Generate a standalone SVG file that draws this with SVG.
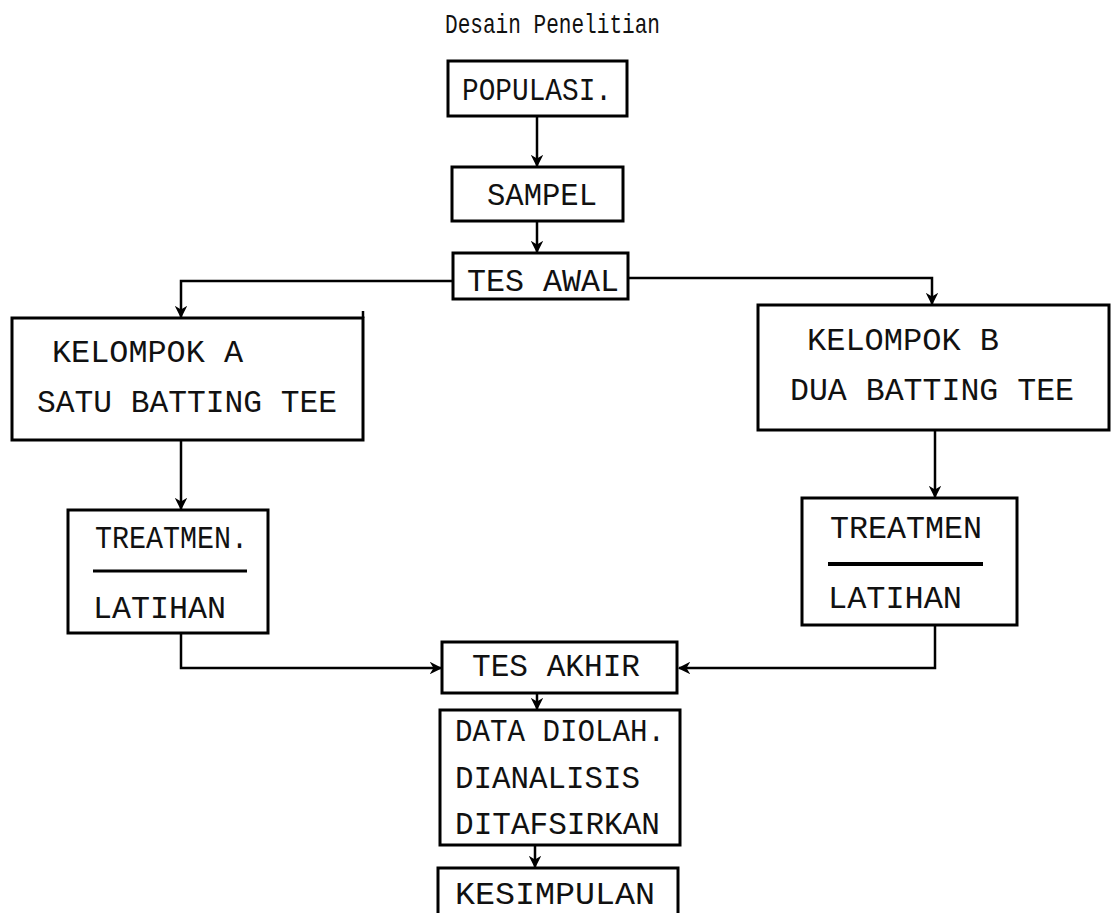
<svg xmlns="http://www.w3.org/2000/svg" width="1112" height="913" viewBox="0 0 1112 913">
<defs>
<marker id="ah" viewBox="0 0 10 10" refX="9" refY="5" markerWidth="5" markerHeight="5" orient="auto" markerUnits="strokeWidth">
<path d="M0,0 L10,5 L0,10 L3,5 Z" fill="#000"/>
</marker>
</defs>
<style>
.box{fill:#fff;stroke:#000;stroke-width:3}
.t{font-family:"Liberation Mono","DejaVu Sans Mono",monospace;font-size:31px;fill:#111}
.title{font-family:"Liberation Mono","DejaVu Sans Mono",monospace;font-size:28px;fill:#111}
.c{fill:none;stroke:#000;stroke-width:2.5;marker-end:url(#ah)}
.c2{fill:none;stroke:#000;stroke-width:2.5}
.rule{stroke:#000;stroke-width:3}
</style>
<rect width="1112" height="913" fill="#fff"/>
<text class="title" x="445" y="33" textLength="215" lengthAdjust="spacingAndGlyphs">Desain Penelitian</text>
<g id="connectors">
<path class="c" d="M537,116 V166"/>
<path class="c" d="M537,221 V252"/>
<path class="c" d="M453,281 H181 V317"/>
<path class="c" d="M628,278 H932 V304"/>
<path class="c" d="M181,440 V509"/>
<path class="c" d="M935,430 V497"/>
<path class="c" d="M181,633 V668 H441"/>
<path class="c" d="M935,625 V668 H679"/>
<path class="c" d="M537,693 V709"/>
<path class="c" d="M535,845 V867"/>
</g>
<g id="populasi">
<rect class="box" x="448" y="61" width="179" height="55"/>
<text class="t" x="462" y="100" textLength="150" lengthAdjust="spacingAndGlyphs">POPULASI.</text>
</g>
<g id="sampel">
<rect class="box" x="452" y="167" width="171" height="54"/>
<text class="t" x="487" y="205" textLength="110" lengthAdjust="spacingAndGlyphs">SAMPEL</text>
</g>
<g id="tes-awal">
<rect class="box" x="453" y="253" width="175" height="46"/>
<text class="t" x="467" y="291" textLength="152" lengthAdjust="spacingAndGlyphs">TES AWAL</text>
</g>
<g id="kelompok-a">
<rect class="box" x="12" y="318" width="351" height="122"/>
<path class="c2" d="M363,318 V311"/>
<text class="t" x="52" y="362" textLength="191" lengthAdjust="spacingAndGlyphs">KELOMPOK A</text>
<text class="t" x="37" y="412" textLength="300" lengthAdjust="spacingAndGlyphs">SATU BATTING TEE</text>
</g>
<g id="kelompok-b">
<rect class="box" x="758" y="305" width="351" height="125"/>
<text class="t" x="807" y="350" textLength="192" lengthAdjust="spacingAndGlyphs">KELOMPOK B</text>
<text class="t" x="790" y="400" textLength="284" lengthAdjust="spacingAndGlyphs">DUA BATTING TEE</text>
</g>
<g id="treatmen-a">
<rect class="box" x="68" y="510" width="200" height="123"/>
<text class="t" x="95" y="548" textLength="153" lengthAdjust="spacingAndGlyphs">TREATMEN.</text>
<line class="rule" x1="93" y1="571" x2="247" y2="571"/>
<text class="t" x="93" y="618" textLength="133" lengthAdjust="spacingAndGlyphs">LATIHAN</text>
</g>
<g id="treatmen-b">
<rect class="box" x="802" y="498" width="215" height="127"/>
<text class="t" x="830" y="538" textLength="152" lengthAdjust="spacingAndGlyphs">TREATMEN</text>
<line class="rule" x1="828" y1="564" x2="983" y2="564" style="stroke-width:4"/>
<text class="t" x="828" y="608" textLength="134" lengthAdjust="spacingAndGlyphs">LATIHAN</text>
</g>
<g id="tes-akhir">
<rect class="box" x="442" y="642" width="235" height="51"/>
<text class="t" x="472" y="676" textLength="168" lengthAdjust="spacingAndGlyphs">TES AKHIR</text>
</g>
<g id="data">
<rect class="box" x="440" y="710" width="240" height="135"/>
<text class="t" x="455" y="741" textLength="210" lengthAdjust="spacingAndGlyphs">DATA DIOLAH.</text>
<text class="t" x="455" y="788" textLength="185" lengthAdjust="spacingAndGlyphs">DIANALISIS</text>
<text class="t" x="455" y="834" textLength="205" lengthAdjust="spacingAndGlyphs">DITAFSIRKAN</text>
</g>
<g id="kesimpulan">
<rect class="box" x="438" y="868" width="240" height="60"/>
<text class="t" x="455" y="904" textLength="200" lengthAdjust="spacingAndGlyphs">KESIMPULAN</text>
</g>
</svg>
